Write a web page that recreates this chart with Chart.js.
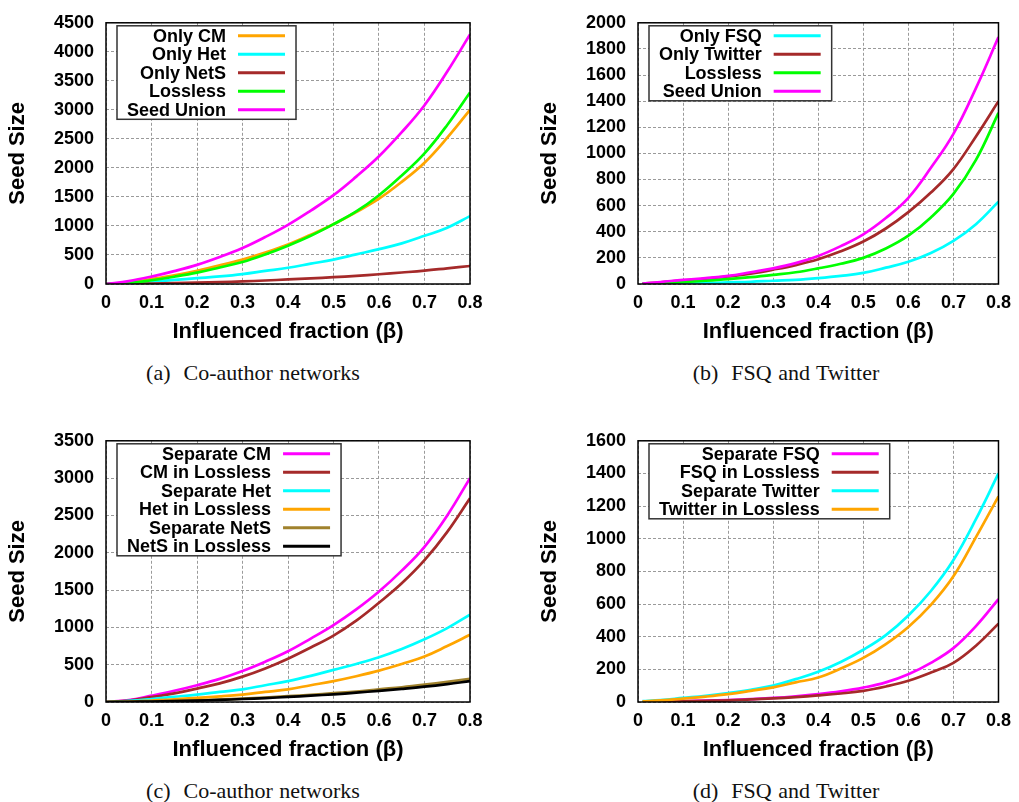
<!DOCTYPE html>
<html>
<head>
<meta charset="utf-8">
<script src="https://cdn.jsdelivr.net/npm/chart.js@4.4.0/dist/chart.umd.min.js"></script>
<style>
  body { margin: 0; background: #fff; width: 1019px; height: 802px; position: relative; overflow: hidden; }
  .panel { position: absolute; }
  .cap { position: absolute; width: 400px; text-align: center; line-height: 26px; word-spacing: 1px;
         font: 22px "Liberation Serif", "Times New Roman", serif; color: #111; }
</style>
</head>
<body>
<div class="panel" style="left:0;top:0"><canvas id="chartA" width="495" height="350"></canvas></div>
<div class="panel" style="left:532px;top:0"><canvas id="chartB" width="487" height="350"></canvas></div>
<div class="panel" style="left:0;top:418px"><canvas id="chartC" width="495" height="350"></canvas></div>
<div class="panel" style="left:532px;top:418px"><canvas id="chartD" width="487" height="350"></canvas></div>
<div class="cap" style="left:53px;top:360px">(a)&nbsp; Co-author networks</div>
<div class="cap" style="left:586px;top:360px">(b)&nbsp; FSQ and Twitter</div>
<div class="cap" style="left:53px;top:778px">(c)&nbsp; Co-author networks</div>
<div class="cap" style="left:586px;top:778px">(d)&nbsp; FSQ and Twitter</div>

<script>
// DATA

// influenced fraction (beta)
const betaCoauthor = [0, 0.05, 0.1, 0.15, 0.2, 0.25, 0.3, 0.35, 0.4, 0.45, 0.5, 0.55, 0.6, 0.65, 0.7, 0.75, 0.8];
const betaFsqTw = [0.01, 0.05, 0.1, 0.15, 0.2, 0.25, 0.3, 0.35, 0.4, 0.45, 0.5, 0.55, 0.6, 0.65, 0.7, 0.75, 0.8];

// (a) co-author networks
const onlyCM = [0, 25, 84, 150, 229, 320, 420, 540, 680, 850, 1030, 1240, 1470, 1760, 2090, 2520, 3000];
const onlyHet = [0, 15, 40, 70, 100, 130, 170, 225, 280, 350, 420, 510, 600, 700, 830, 970, 1170];
const onlyNetS = [0, 3, 8, 14, 22, 32, 45, 60, 78, 97, 117, 140, 168, 198, 230, 270, 310];
const losslessA = [0, 18, 65, 125, 195, 285, 380, 510, 660, 830, 1030, 1250, 1530, 1870, 2250, 2740, 3300];
const seedUnionA = [0, 50, 128, 222, 330, 465, 620, 810, 1020, 1265, 1530, 1850, 2200, 2615, 3080, 3660, 4300];

// (b) FSQ and Twitter
const onlyFSQ = [0, 2, 4, 7, 12, 17, 25, 32, 45, 62, 85, 125, 170, 237, 330, 458, 630];
const onlyTwitter = [3, 12, 28, 40, 58, 80, 110, 145, 190, 250, 325, 425, 550, 700, 880, 1130, 1400];
const losslessB = [1, 6, 15, 25, 37, 52, 70, 90, 120, 155, 200, 272, 370, 510, 690, 950, 1310];
const seedUnionB = [3, 15, 32, 45, 62, 90, 120, 160, 215, 290, 380, 505, 660, 890, 1150, 1500, 1890];

// (c) co-author networks, separate vs in lossless
const sepCM = [0, 25, 85, 150, 225, 310, 415, 540, 680, 850, 1030, 1240, 1480, 1760, 2080, 2500, 3000];
const cmInLossless = [0, 18, 65, 115, 180, 250, 340, 450, 580, 730, 890, 1090, 1330, 1590, 1900, 2280, 2730];
const sepHet = [0, 15, 40, 70, 100, 135, 170, 225, 280, 350, 430, 510, 600, 710, 840, 990, 1170];
const hetInLossless = [0, 6, 20, 35, 55, 75, 100, 135, 170, 225, 280, 345, 420, 510, 610, 750, 900];
const sepNetS = [0, 3, 8, 14, 22, 32, 45, 60, 78, 97, 118, 140, 170, 198, 232, 270, 310];
const netSInLossless = [0, 2, 7, 12, 19, 28, 40, 53, 68, 85, 103, 125, 150, 176, 205, 240, 280];

// (d) FSQ and Twitter, separate vs in lossless
const sepFSQ = [0, 2, 5, 8, 12, 18, 25, 35, 48, 65, 88, 120, 170, 240, 330, 465, 630];
const fsqInLossless = [0, 1, 4, 7, 10, 16, 22, 30, 40, 52, 68, 95, 130, 180, 240, 345, 480];
const sepTwitter = [5, 12, 25, 38, 55, 75, 100, 140, 185, 245, 320, 410, 530, 680, 870, 1120, 1400];
const twInLossless = [4, 10, 21, 33, 48, 68, 90, 120, 150, 205, 270, 355, 460, 595, 770, 1010, 1260];

// y axis ranges
const yMaxA = 4500, yStepA = 500;
const yMaxB = 2000, yStepB = 200;
const yMaxC = 3500, yStepC = 500;
const yMaxD = 1600, yStepD = 200;

// COLOURS
const ORANGE = '#ffa500', CYAN = '#00ffff', BROWN = '#a52a2a', GREEN = '#00ff00',
      MAGENTA = '#ff00ff', GOLD = '#a0822d', BLACK = '#000000';

const FONT = '"Liberation Sans", Arial, Helvetica, sans-serif';
Chart.defaults.font.family = FONT;
Chart.defaults.font.weight = 'bold';
Chart.defaults.color = '#000';

// gnuplot style frame + key (text right aligned, line sample on the right)
const frameAndKey = {
  id: 'frameAndKey',
  afterDatasetsDraw(chart) {
    const { ctx, chartArea: a } = chart;
    ctx.save();
    ctx.strokeStyle = '#000';
    ctx.lineWidth = 1.5;
    ctx.strokeRect(a.left, a.top, a.right - a.left, a.bottom - a.top);

    ctx.font = 'bold 18px ' + FONT;
    const sets = chart.data.datasets;
    let maxW = 0;
    sets.forEach(d => { maxW = Math.max(maxW, ctx.measureText(d.label).width); });
    const rowH = 18.5;
    const x0 = a.left + 11, y0 = a.top + 3;
    const w = 10 + maxW + 12 + 47 + 11;
    const h = sets.length * rowH + 1;
    ctx.fillStyle = '#fff';
    ctx.fillRect(x0, y0, w, h);
    ctx.strokeStyle = '#333';
    ctx.lineWidth = 1.5;
    ctx.strokeRect(x0, y0, w, h);
    sets.forEach((d, i) => {
      const cy = y0 + 10 + i * rowH;
      ctx.fillStyle = '#000';
      ctx.textAlign = 'right';
      ctx.textBaseline = 'middle';
      ctx.fillText(d.label, x0 + 10 + maxW, cy + 1);
      ctx.strokeStyle = d.borderColor;
      ctx.lineWidth = 3;
      ctx.beginPath();
      ctx.moveTo(x0 + w - 11 - 47, cy);
      ctx.lineTo(x0 + w - 11, cy);
      ctx.stroke();
    });
    ctx.restore();
  }
};

function makeChart(id, xs, series, yMax, yStep, padRight) {
  const n = series.length;
  const datasets = series.map((s, i) => ({
    label: s.label,
    data: xs.map((x, j) => ({ x: x, y: s.values[j] })),
    borderColor: s.color,
    backgroundColor: s.color,
    borderWidth: 2.7,
    pointRadius: 0,
    tension: 0.4,
    order: n - i
  }));

  return new Chart(document.getElementById(id), {
    type: 'line',
    data: { datasets },
    options: {
      responsive: false,
      animation: false,
      layout: { padding: { left: 0, top: 16, right: padRight, bottom: 0 } },
      plugins: { legend: { display: false }, tooltip: { enabled: false } },
      scales: {
        x: {
          type: 'linear',
          min: 0, max: 0.8,
          ticks: {
            stepSize: 0.1, padding: 8, font: { size: 18, weight: 'bold' },
            callback: v => String(+v.toFixed(2))
          },
          grid: { color: '#9a9a9a', lineWidth: 1, drawTicks: false },
          border: { display: false, dash: [3, 2] },
          title: { display: true, text: 'Influenced fraction (β)', font: { size: 22, weight: 'bold' }, padding: { top: 0, bottom: 5 } },
          afterFit(scale) { scale.height = 66; }
        },
        y: {
          min: 0, max: yMax,
          ticks: {
            stepSize: yStep, padding: 12, font: { size: 18, weight: 'bold' },
            callback: v => String(v)
          },
          grid: { color: '#9a9a9a', lineWidth: 1, drawTicks: false },
          border: { display: false, dash: [3, 2] },
          title: { display: true, text: 'Seed Size', font: { size: 22, weight: 'bold' }, padding: { top: 5, bottom: 0 } },
          afterFit(scale) { scale.width = 106; }
        }
      }
    },
    plugins: [frameAndKey]
  });
}

makeChart('chartA', betaCoauthor, [
  { label: 'Only CM', values: onlyCM, color: ORANGE },
  { label: 'Only Het', values: onlyHet, color: CYAN },
  { label: 'Only NetS', values: onlyNetS, color: BROWN },
  { label: 'Lossless', values: losslessA, color: GREEN },
  { label: 'Seed Union', values: seedUnionA, color: MAGENTA }
], yMaxA, yStepA, 25);

makeChart('chartB', betaFsqTw, [
  { label: 'Only FSQ', values: onlyFSQ, color: CYAN },
  { label: 'Only Twitter', values: onlyTwitter, color: BROWN },
  { label: 'Lossless', values: losslessB, color: GREEN },
  { label: 'Seed Union', values: seedUnionB, color: MAGENTA }
], yMaxB, yStepB, 17);

makeChart('chartC', betaCoauthor, [
  { label: 'Separate CM', values: sepCM, color: MAGENTA },
  { label: 'CM in Lossless', values: cmInLossless, color: BROWN },
  { label: 'Separate Het', values: sepHet, color: CYAN },
  { label: 'Het in Lossless', values: hetInLossless, color: ORANGE },
  { label: 'Separate NetS', values: sepNetS, color: GOLD },
  { label: 'NetS in Lossless', values: netSInLossless, color: BLACK }
], yMaxC, yStepC, 25);

makeChart('chartD', betaFsqTw, [
  { label: 'Separate FSQ', values: sepFSQ, color: MAGENTA },
  { label: 'FSQ in Lossless', values: fsqInLossless, color: BROWN },
  { label: 'Separate Twitter', values: sepTwitter, color: CYAN },
  { label: 'Twitter in Lossless', values: twInLossless, color: ORANGE }
], yMaxD, yStepD, 17);
</script>
</body>
</html>
